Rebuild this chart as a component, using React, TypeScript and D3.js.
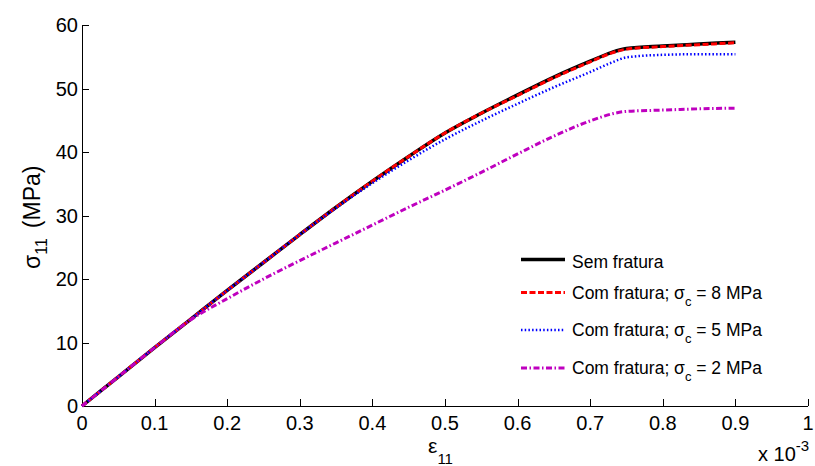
import React from 'react';
import * as d3 from 'd3';

// strain in units of 1e-3
const strain = [0, 0.05, 0.1, 0.15, 0.2, 0.25, 0.3, 0.35, 0.4, 0.45, 0.5, 0.55, 0.6, 0.65, 0.7, 0.73, 0.75, 0.8, 0.85, 0.9];

const semFratura = [0, 4.6, 9.2, 13.7, 18.2, 22.6, 27.0, 31.3, 35.4, 39.3, 43.0, 46.1, 49.0, 51.8, 54.3, 55.7, 56.3, 56.7, 57.0, 57.3];
const comFratura8 = [0, 4.6, 9.2, 13.7, 18.2, 22.6, 27.0, 31.3, 35.4, 39.3, 43.0, 46.1, 48.9, 51.7, 54.2, 55.6, 56.2, 56.6, 56.9, 57.2];
const comFratura5 = [0, 4.6, 9.2, 13.7, 18.2, 22.6, 27.0, 31.2, 35.1, 38.7, 42.0, 44.9, 47.6, 50.2, 52.6, 54.1, 54.9, 55.3, 55.4, 55.4];
const comFratura2 = [0, 4.6, 9.2, 13.6, 16.9, 20.0, 22.9, 25.7, 28.5, 31.3, 34.0, 36.8, 39.7, 42.5, 44.9, 46.0, 46.4, 46.6, 46.8, 46.9];

const xTicks = [0, 0.1, 0.2, 0.3, 0.4, 0.5, 0.6, 0.7, 0.8, 0.9, 1];
const yTicks = [0, 10, 20, 30, 40, 50, 60];

const sigmaC = [null, 8, 5, 2];

const series = [
  { values: semFratura, color: '#000000', width: 3.5, dash: null },
  { values: comFratura8, color: '#ff0000', width: 3, dash: '6,2.5' },
  { values: comFratura5, color: '#0000ff', width: 2.5, dash: '1.5,2.2' },
  { values: comFratura2, color: '#bf00bf', width: 3, dash: '6,2.5,1.5,2.5' },
];

const font = 'Liberation Sans, Arial, sans-serif';

export default function App() {
  const width = 815;
  const height = 466;
  const x = d3.scaleLinear().domain([0, 1]).range([82, 808]);
  const y = d3.scaleLinear().domain([0, 60]).range([406, 25]);

  const line = d3.line<number>()
    .x((d, i) => x(strain[i]))
    .y(d => y(d))
    .curve(d3.curveMonotoneX);

  const legendX0 = 521;
  const legendX1 = 565;
  const legendY = [259.5, 292.5, 330, 368];

  return (
    <svg width={width} height={height} style={{ position: 'absolute', left: 0, top: 0, background: '#fff' }}
      fontFamily={font}>
      <rect width={width} height={height} fill="#fff" />

      {/* axes */}
      <line x1={x(0)} x2={x(1)} y1={406.5} y2={406.5} stroke="#000" strokeWidth={1} />
      <line x1={82.5} x2={82.5} y1={y(60)} y2={406.5} stroke="#000" strokeWidth={1} />
      {xTicks.map(t => (
        <g key={'x' + t}>
          <line x1={Math.round(x(t)) + 0.5} x2={Math.round(x(t)) + 0.5} y1={406} y2={399} stroke="#000" strokeWidth={1} />
          <text x={x(t)} y={430} fontSize={20} textAnchor="middle" fill="#000">{d3.format('~g')(t)}</text>
        </g>
      ))}
      {yTicks.map(t => (
        <g key={'y' + t}>
          <line x1={82} x2={89} y1={Math.round(y(t)) + 0.5} y2={Math.round(y(t)) + 0.5} stroke="#000" strokeWidth={1} />
          <text x={78} y={y(t)} dy="0.36em" fontSize={20} textAnchor="end" fill="#000">{t}</text>
        </g>
      ))}

      {/* axis labels */}
      <text x={428} y={453} fontSize={21} fill="#000">
        ε<tspan fontSize={15} dy={11}>11</tspan>
      </text>
      <text transform="translate(40,269) rotate(-90)" fontSize={23} fill="#000">
        σ<tspan fontSize={16} dy={7}>11</tspan><tspan dy={-7} dx={10}>(MPa)</tspan>
      </text>
      <text x={758} y={461} fontSize={20} fill="#000">
        x 10<tspan fontSize={15} dy={-10}>-3</tspan>
      </text>

      {/* curves */}
      {series.map((s, i) => (
        <path key={i} d={line(s.values) || ''} fill="none" stroke={s.color} strokeWidth={s.width}
          strokeDasharray={s.dash || undefined} strokeLinejoin="round" />
      ))}

      {/* legend */}
      {series.map((s, i) => (
        <g key={'l' + i}>
          <line x1={legendX0} x2={legendX1} y1={legendY[i]} y2={legendY[i]} stroke={s.color}
            strokeWidth={s.width} strokeDasharray={s.dash || undefined} />
          {sigmaC[i] === null ? (
            <text x={572} y={legendY[i] + 8} fontSize={17.5} fill="#000">Sem fratura</text>
          ) : (
            <text x={572} y={legendY[i] + 6.3} fontSize={17.5} fill="#000">
              Com fratura; σ<tspan fontSize={13} dy={7}>c</tspan><tspan dy={-7}>{` = ${sigmaC[i]} MPa`}</tspan>
            </text>
          )}
        </g>
      ))}
    </svg>
  );
}
